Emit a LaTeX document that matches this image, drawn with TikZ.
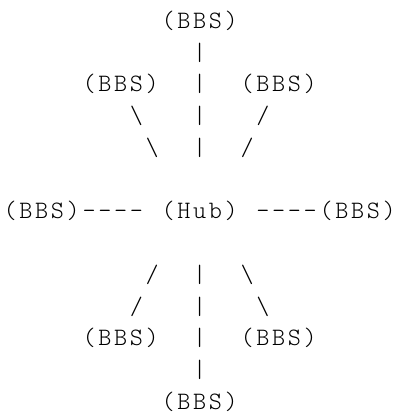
\documentclass[tikz,border=0pt]{standalone}
\usepackage{fontspec}
\setmonofont{lmmonolt10-regular}[Extension=.otf, LetterSpace=10.7]
\begin{document}
\begin{tikzpicture}[x=1pt,y=1pt,
  asc/.style={anchor=base west, inner sep=0pt, outer sep=0pt,
              font=\ttfamily\fontsize{25}{29}\selectfont, text=black}]
\useasboundingbox (0,0) rectangle (399,414);
\newcommand\cellat[2]{({3.5+#1*15.8},{385.7-#2*31.75})}
% row 0
\node[asc] (bbsN) at \cellat{10}{0} {(BBS)};
% row 1
\node[asc] (n1) at \cellat{12}{1} {|};
% row 2
\node[asc] (bbsNW) at \cellat{5}{2} {(BBS)};
\node[asc] (n2) at \cellat{12}{2} {|};
\node[asc] (bbsNE) at \cellat{15}{2} {(BBS)};
% row 3
\node[asc] (nw1) at \cellat{8}{3} {\textbackslash};
\node[asc] (n3) at \cellat{12}{3} {|};
\node[asc] (ne1) at \cellat{16}{3} {/};
% row 4
\node[asc] (nw2) at \cellat{9}{4} {\textbackslash};
\node[asc] (n4) at \cellat{12}{4} {|};
\node[asc] (ne2) at \cellat{15}{4} {/};
% row 6
\node[asc] (bbsW) at \cellat{0}{6} {(BBS)};
\node[asc] (w1) at \cellat{5}{6} {----};
\node[asc] (hub) at \cellat{10}{6} {(Hub)};
\node[asc] (e1) at \cellat{16}{6} {----};
\node[asc] (bbsE) at \cellat{20}{6} {(BBS)};
% row 8
\node[asc] (sw1) at \cellat{9}{8} {/};
\node[asc] (s1) at \cellat{12}{8} {|};
\node[asc] (se1) at \cellat{15}{8} {\textbackslash};
% row 9
\node[asc] (sw2) at \cellat{8}{9} {/};
\node[asc] (s2) at \cellat{12}{9} {|};
\node[asc] (se2) at \cellat{16}{9} {\textbackslash};
% row 10
\node[asc] (bbsSW) at \cellat{5}{10} {(BBS)};
\node[asc] (s3) at \cellat{12}{10} {|};
\node[asc] (bbsSE) at \cellat{15}{10} {(BBS)};
% row 11
\node[asc] (s4) at \cellat{12}{11} {|};
% row 12
\node[asc] (bbsS) at \cellat{10}{12} {(BBS)};
\end{tikzpicture}
\end{document}
